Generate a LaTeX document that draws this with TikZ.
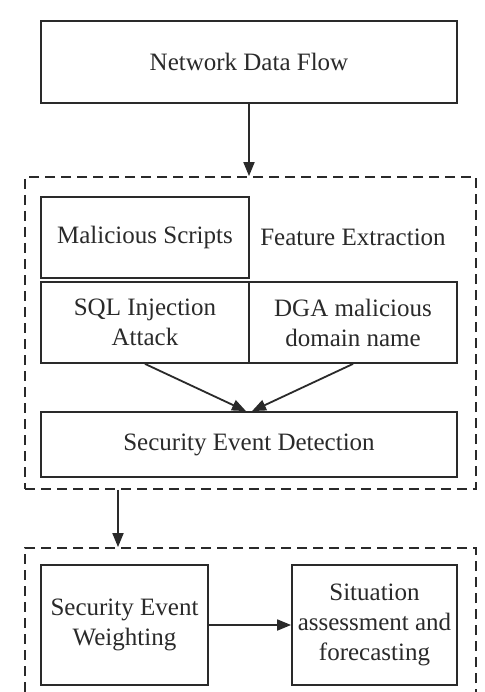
\documentclass[tikz,border=0pt]{standalone}
\usepackage{fontspec}
\setmainfont{Liberation Serif}
\usetikzlibrary{arrows.meta}
\definecolor{ink}{HTML}{2A2A2A}
\begin{document}
\begin{tikzpicture}[x=1pt,y=-1pt,
  box/.style={draw=ink, line width=1.8pt, inner sep=0pt, align=center,
    font=\fontsize{25}{30}\selectfont, text=ink},
  label/.style={inner sep=0pt, align=center, font=\fontsize{25}{30}\selectfont, text=ink},
  group/.style={draw=ink, line width=1.8pt, dash pattern=on 10pt off 6pt, inner sep=0pt},
  arr/.style={draw=ink, line width=1.8pt, -{Triangle[length=14pt,width=11pt]}},
]
\useasboundingbox (0,0) rectangle (484,692);
\clip (0,0) rectangle (484,692);
\fill[white] (0,0) rectangle (484,692);

% input
\node[box, minimum width=416pt, minimum height=82pt] (flow) at (249,62) {Network Data Flow};

% detection stage
\node[group, minimum width=451pt, minimum height=312pt] (stage1) at (250.5,333) {};
\node[box, minimum width=208pt, minimum height=81pt] (mal) at (145,237.5) {Malicious Scripts};
\node[label] (feat) at (353,237.5) {Feature Extraction};
\node[box, minimum width=208pt, minimum height=81pt] (sql) at (145,322.5) {SQL Injection\\Attack};
\node[box, minimum width=208pt, minimum height=81pt] (dga) at (353,322.5) {DGA malicious\\domain name};
\node[box, minimum width=416pt, minimum height=65pt] (sed) at (249,444.5) {Security Event Detection};

% assessment stage (open at the bottom)
\node[group, minimum width=451pt, minimum height=180pt] (stage2) at (250.5,638) {};
\node[box, minimum width=167pt, minimum height=120pt] (sew) at (124.5,625) {Security Event\\Weighting};
\node[box, minimum width=165pt, minimum height=120pt] (saf) at (374.5,625) {Situation\\assessment and\\forecasting};

% connectors
\coordinate (drop) at (118,0);
\draw[arr] (flow.south) -- (flow.south |- stage1.north);
\draw[arr] (sql.south) -- ([xshift=-3pt]sed.north);
\draw[arr] (dga.south) -- ([xshift=3pt]sed.north);
\draw[arr] (stage1.south -| drop) -- (stage2.north -| drop);
\draw[arr] (sew.east) -- (saf.west);
\end{tikzpicture}
\end{document}
